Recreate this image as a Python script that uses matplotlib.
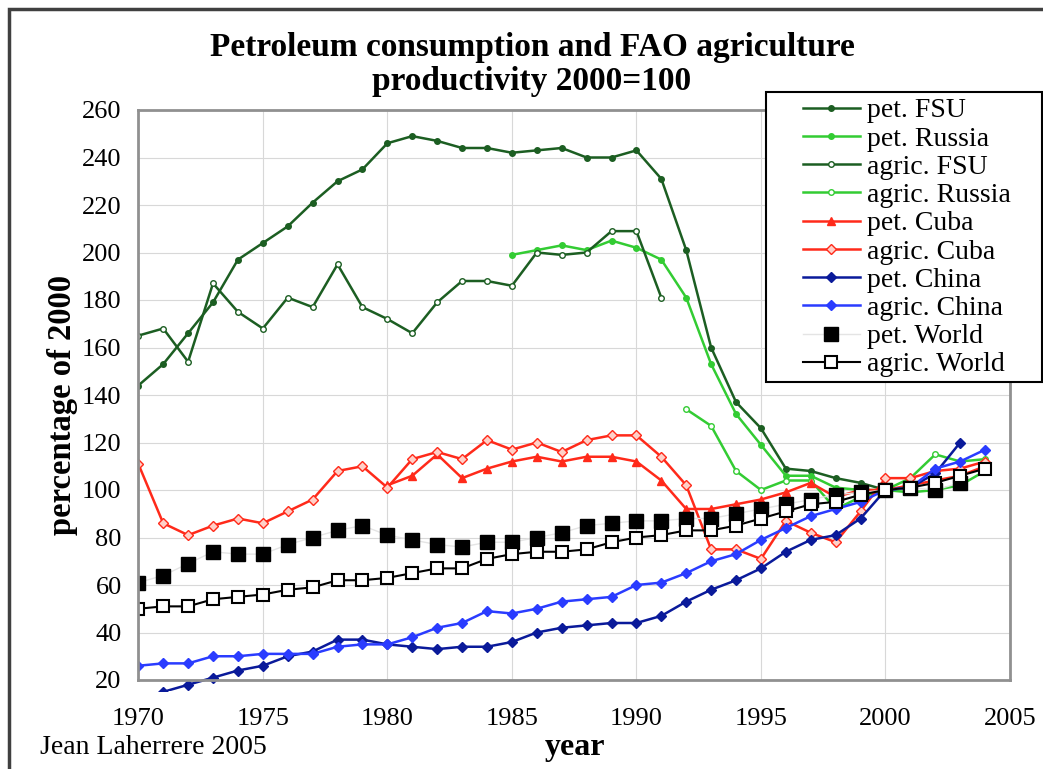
import matplotlib
matplotlib.use('Agg')
import matplotlib.pyplot as plt
from matplotlib.patches import Rectangle

plt.rcParams['font.family'] = ['Liberation Serif', 'DejaVu Serif']

# values, 2000 = 100
yrs_pet_fsu = list(range(1970, 2001))
pet_fsu = [144, 153, 166, 179, 197, 204, 211, 221, 230, 235, 246, 249, 247, 244, 244,
           242, 243, 244, 240, 240, 243, 231, 201, 160, 137, 126, 109, 108, 105, 103, 100]

yrs_pet_russia = list(range(1985, 2005))
pet_russia = [199, 201, 203, 201, 205, 202, 197, 181, 153, 132, 119, 106, 106, 101, 100,
              100, 99, 100, 102, 108]

yrs_agric_fsu = list(range(1970, 1992))
agric_fsu = [165, 168, 154, 187, 175, 168, 181, 177, 195, 177, 172, 166, 179, 188, 188,
             186, 200, 199, 200, 209, 209, 181]

yrs_agric_russia = list(range(1992, 2005))
agric_russia = [134, 127, 108, 100, 104, 104, 92, 97, 100, 105, 115, 112, 113]

yrs_pet_cuba = list(range(1980, 2005))
pet_cuba = [102, 106, 115, 105, 109, 112, 114, 112, 114, 114, 112, 104, 92, 92, 94, 96,
            99, 103, 97, 100, 100, 102, 104, 106, 110]

yrs_agric_cuba = list(range(1970, 2005))
agric_cuba = [111, 86, 81, 85, 88, 86, 91, 96, 108, 110, 101, 113, 116, 113, 121, 117,
              120, 116, 121, 123, 123, 114, 102, 75, 75, 71, 87, 82, 78, 91, 105, 105,
              108, 109, 112]

yrs_pet_china = list(range(1970, 2004))
pet_china = [13, 15, 18, 21, 24, 26, 30, 32, 37, 37, 35, 34, 33, 34, 34, 36, 40, 42, 43,
             44, 44, 47, 53, 58, 62, 67, 74, 79, 81, 88, 100, 101, 107, 120]

yrs_agric_china = list(range(1970, 2005))
agric_china = [26, 27, 27, 30, 30, 31, 31, 31, 34, 35, 35, 38, 42, 44, 49, 48, 50, 53,
               54, 55, 60, 61, 65, 70, 73, 79, 84, 89, 92, 95, 100, 101, 109, 112, 117]

yrs_pet_world = list(range(1970, 2004))
pet_world = [61, 64, 69, 74, 73, 73, 77, 80, 83, 85, 81, 79, 77, 76, 78, 78, 80, 82, 85,
             86, 87, 87, 88, 88, 90, 92, 94, 96, 98, 99, 100, 101, 100, 103]

yrs_agric_world = list(range(1970, 2005))
agric_world = [50, 51, 51, 54, 55, 56, 58, 59, 62, 62, 63, 65, 67, 67, 71, 73, 74, 74,
               75, 78, 80, 81, 83, 83, 85, 88, 91, 94, 95, 98, 100, 101, 103, 106, 109]

dkgreen = '#1c5e22'
green = '#33cc33'
red = '#ff2a1a'
navy = '#0a1a9a'
blue = '#2a3cff'

W, H = 1043, 769
fig = plt.figure(figsize=(W / 100, H / 100), dpi=100)
ax = fig.add_axes([138.3 / W, 1 - 680 / H, (1010 - 138.3) / W, 570 / H])

ax.plot(yrs_pet_fsu, pet_fsu, color=dkgreen, lw=1.8, marker='o', ms=4, label='pet. FSU')
ax.plot(yrs_pet_russia, pet_russia, color=green, lw=1.8, marker='o', ms=4, label='pet. Russia')
ax.plot(yrs_agric_fsu, agric_fsu, color=dkgreen, lw=1.8, marker='o', ms=4,
        mfc='white', mec=dkgreen, label='agric. FSU')
ax.plot(yrs_agric_russia, agric_russia, color=green, lw=1.8, marker='o', ms=4,
        mfc='white', mec=green, label='agric. Russia')
ax.plot(yrs_pet_cuba, pet_cuba, color=red, lw=1.8, marker='^', ms=6, label='pet. Cuba')
ax.plot(yrs_agric_cuba, agric_cuba, color=red, lw=1.8, marker='D', ms=5,
        mfc='#ffd0c8', mec=red, label='agric. Cuba')
china_line, = ax.plot(yrs_pet_china, pet_china, color=navy, lw=1.8, marker='D', ms=5,
                      label='pet. China')
ax.plot(yrs_agric_china, agric_china, color=blue, lw=1.8, marker='D', ms=5, label='agric. China')
ax.plot(yrs_pet_world, pet_world, color='#e4e4e4', lw=1, marker='s', ms=10,
        mfc='black', mec='black', label='pet. World')
ax.plot(yrs_agric_world, agric_world, color='black', lw=1.5, marker='s', ms=9,
        mfc='white', mec='black', mew=1.5, label='agric. World')

# the old chart lets the China line run a little below the frame
clip = Rectangle((0, -0.02), 1, 1.02, transform=ax.transAxes, visible=False)
fig.add_artist(clip)
china_line.set_clip_path(clip)

ax.set_xlim(1970, 2005)
ax.set_ylim(20, 260)
ax.set_xticks(range(1970, 2006, 5))
ax.set_yticks(range(20, 261, 20))
ax.grid(True, color='#d8d8d8', lw=0.8)
ax.set_axisbelow(True)
for s in ax.spines.values():
    s.set_color('#909090')
    s.set_linewidth(2)
ax.tick_params(labelsize=19, length=0)
ax.tick_params(axis='x', pad=20)
ax.tick_params(axis='y', pad=12)

fig.text(575 / W, 1 - 748 / H, 'year', ha='center', va='center', fontsize=23,
         fontweight='bold')
fig.text(62 / W, 1 - 405 / H, 'percentage of 2000', ha='center', va='center',
         rotation=90, fontsize=23.5, fontweight='bold')
fig.text(532 / W, 1 - 56 / H, 'Petroleum consumption and FAO agriculture',
         ha='center', va='baseline', fontsize=24, fontweight='bold')
fig.text(532 / W, 1 - 90 / H, 'productivity 2000=100',
         ha='center', va='baseline', fontsize=24, fontweight='bold')
fig.text(40 / W, 1 - 748 / H, 'Jean Laherrere 2005', fontsize=20, va='center')

# legend box drawn separately so its padding can match the original
ax.add_patch(Rectangle((766 / W, 1 - 382 / H), 276 / W, 290 / H,
                       transform=fig.transFigure, clip_on=False, facecolor='white',
                       edgecolor='black', lw=1.5, zorder=4.9))
leg = ax.legend(loc='upper left', bbox_to_anchor=(803 / W, 1 - 98 / H),
                bbox_transform=fig.transFigure, fontsize=20, frameon=False,
                handlelength=2.05, handletextpad=0.25, labelspacing=0.1,
                borderpad=0, borderaxespad=0)

fig.patches.append(Rectangle((9 / W, -0.05), 1.2, 1 - 9 / H + 0.05,
                             transform=fig.transFigure, fill=False,
                             edgecolor='#404040', lw=2.5))

fig.savefig('out.png', dpi=100)
